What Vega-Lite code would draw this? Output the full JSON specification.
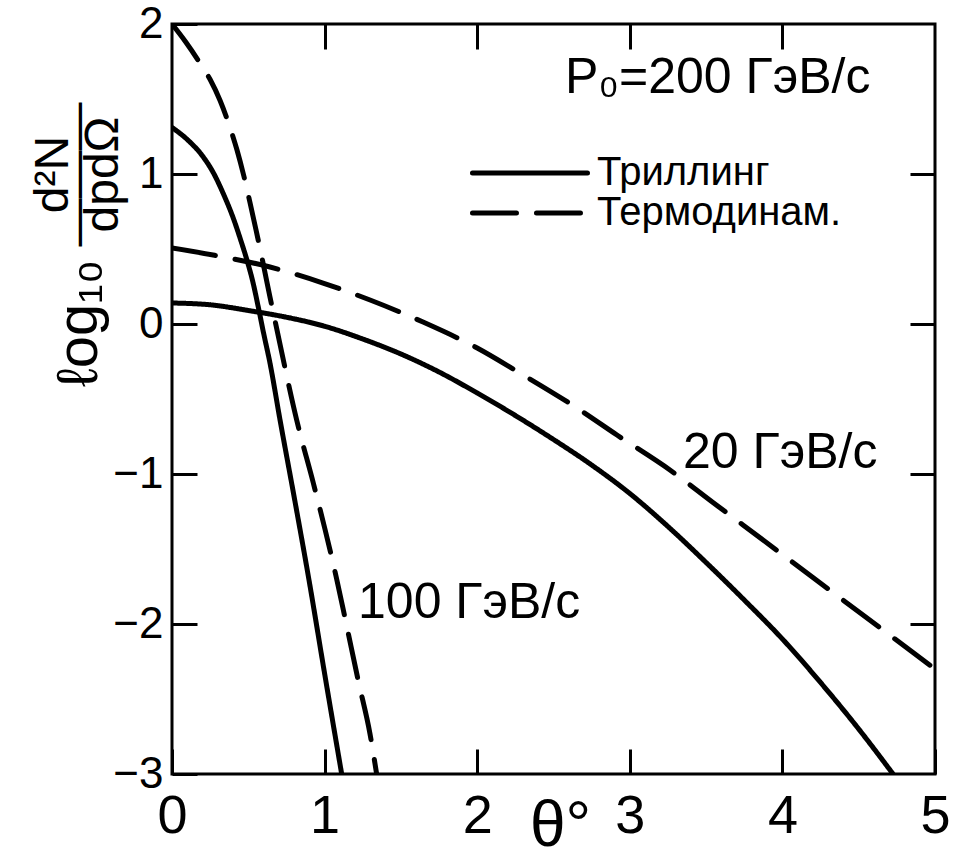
{
  "$schema": "https://vega.github.io/schema/vega-lite/v6.json",
  "width": 763,
  "height": 750,
  "autosize": {"type": "none"},
  "padding": {"left": 172, "top": 24, "right": 23, "bottom": 80},
  "background": "white",
  "config": {
    "font": "Liberation Sans, Arimo, sans-serif",
    "view": {"stroke": "black", "strokeWidth": 3},
    "axis": {
      "domain": false,
      "grid": false,
      "tickColor": "black",
      "tickWidth": 3,
      "tickSize": -25,
      "labelColor": "black",
      "labelFlush": false,
      "labelOverlap": false,
      "titleColor": "black",
      "titleFontWeight": "normal"
    }
  },
  "datasets": {
    "curves": [
      {"p": "100", "model": "Триллинг", "theta": 0.0, "logI": 1.31},
      {"p": "100", "model": "Триллинг", "theta": 0.1, "logI": 1.23},
      {"p": "100", "model": "Триллинг", "theta": 0.2, "logI": 1.12},
      {"p": "100", "model": "Триллинг", "theta": 0.27, "logI": 1.01},
      {"p": "100", "model": "Триллинг", "theta": 0.34, "logI": 0.86},
      {"p": "100", "model": "Триллинг", "theta": 0.4, "logI": 0.71},
      {"p": "100", "model": "Триллинг", "theta": 0.45, "logI": 0.56},
      {"p": "100", "model": "Триллинг", "theta": 0.49, "logI": 0.43},
      {"p": "100", "model": "Триллинг", "theta": 0.53, "logI": 0.28},
      {"p": "100", "model": "Триллинг", "theta": 0.564, "logI": 0.12},
      {"p": "100", "model": "Триллинг", "theta": 0.6, "logI": -0.06},
      {"p": "100", "model": "Триллинг", "theta": 0.642, "logI": -0.26},
      {"p": "100", "model": "Триллинг", "theta": 0.708, "logI": -0.64},
      {"p": "100", "model": "Триллинг", "theta": 0.8, "logI": -1.15},
      {"p": "100", "model": "Триллинг", "theta": 0.9, "logI": -1.72},
      {"p": "100", "model": "Триллинг", "theta": 1.0, "logI": -2.33},
      {"p": "100", "model": "Триллинг", "theta": 1.112, "logI": -3.0},

      {"p": "100", "model": "Термодинам.", "theta": 0.0, "logI": 2.0},
      {"p": "100", "model": "Термодинам.", "theta": 0.09, "logI": 1.88},
      {"p": "100", "model": "Термодинам.", "theta": 0.183, "logI": 1.74},
      {"p": "100", "model": "Термодинам.", "theta": 0.25, "logI": 1.63},
      {"p": "100", "model": "Термодинам.", "theta": 0.315, "logI": 1.49},
      {"p": "100", "model": "Термодинам.", "theta": 0.37, "logI": 1.34},
      {"p": "100", "model": "Термодинам.", "theta": 0.426, "logI": 1.16},
      {"p": "100", "model": "Термодинам.", "theta": 0.47, "logI": 0.99},
      {"p": "100", "model": "Термодинам.", "theta": 0.511, "logI": 0.81},
      {"p": "100", "model": "Термодинам.", "theta": 0.55, "logI": 0.63},
      {"p": "100", "model": "Термодинам.", "theta": 0.598, "logI": 0.4},
      {"p": "100", "model": "Термодинам.", "theta": 0.642, "logI": 0.18},
      {"p": "100", "model": "Термодинам.", "theta": 0.686, "logI": -0.03},
      {"p": "100", "model": "Термодинам.", "theta": 0.74, "logI": -0.29},
      {"p": "100", "model": "Термодинам.", "theta": 0.817, "logI": -0.64},
      {"p": "100", "model": "Термодинам.", "theta": 0.926, "logI": -1.06},
      {"p": "100", "model": "Термодинам.", "theta": 1.003, "logI": -1.37},
      {"p": "100", "model": "Термодинам.", "theta": 1.079, "logI": -1.7},
      {"p": "100", "model": "Термодинам.", "theta": 1.134, "logI": -1.96},
      {"p": "100", "model": "Термодинам.", "theta": 1.221, "logI": -2.38},
      {"p": "100", "model": "Термодинам.", "theta": 1.297, "logI": -2.73},
      {"p": "100", "model": "Термодинам.", "theta": 1.341, "logI": -3.0},

      {"p": "20", "model": "Триллинг", "theta": 0.0, "logI": 0.14},
      {"p": "20", "model": "Триллинг", "theta": 0.25, "logI": 0.128},
      {"p": "20", "model": "Триллинг", "theta": 0.5, "logI": 0.09},
      {"p": "20", "model": "Триллинг", "theta": 0.75, "logI": 0.045},
      {"p": "20", "model": "Триллинг", "theta": 1.0, "logI": -0.015},
      {"p": "20", "model": "Триллинг", "theta": 1.25, "logI": -0.1},
      {"p": "20", "model": "Триллинг", "theta": 1.5, "logI": -0.2},
      {"p": "20", "model": "Триллинг", "theta": 1.75, "logI": -0.32},
      {"p": "20", "model": "Триллинг", "theta": 2.0, "logI": -0.46},
      {"p": "20", "model": "Триллинг", "theta": 2.25, "logI": -0.61},
      {"p": "20", "model": "Триллинг", "theta": 2.5, "logI": -0.77},
      {"p": "20", "model": "Триллинг", "theta": 2.75, "logI": -0.94},
      {"p": "20", "model": "Триллинг", "theta": 3.0, "logI": -1.13},
      {"p": "20", "model": "Триллинг", "theta": 3.25, "logI": -1.35},
      {"p": "20", "model": "Триллинг", "theta": 3.5, "logI": -1.59},
      {"p": "20", "model": "Триллинг", "theta": 3.75, "logI": -1.84},
      {"p": "20", "model": "Триллинг", "theta": 4.0, "logI": -2.1},
      {"p": "20", "model": "Триллинг", "theta": 4.25, "logI": -2.39},
      {"p": "20", "model": "Триллинг", "theta": 4.5, "logI": -2.7},
      {"p": "20", "model": "Триллинг", "theta": 4.725, "logI": -3.0},

      {"p": "20", "model": "Термодинам.", "theta": 0.0, "logI": 0.507},
      {"p": "20", "model": "Термодинам.", "theta": 0.269, "logI": 0.46},
      {"p": "20", "model": "Термодинам.", "theta": 0.642, "logI": 0.38},
      {"p": "20", "model": "Термодинам.", "theta": 0.99, "logI": 0.273},
      {"p": "20", "model": "Термодинам.", "theta": 1.298, "logI": 0.16},
      {"p": "20", "model": "Термодинам.", "theta": 1.645, "logI": 0.013},
      {"p": "20", "model": "Термодинам.", "theta": 2.0, "logI": -0.16},
      {"p": "20", "model": "Термодинам.", "theta": 2.28, "logI": -0.327},
      {"p": "20", "model": "Термодинам.", "theta": 2.654, "logI": -0.56},
      {"p": "20", "model": "Термодинам.", "theta": 2.916, "logI": -0.74},
      {"p": "20", "model": "Термодинам.", "theta": 3.263, "logI": -0.973},
      {"p": "20", "model": "Термодинам.", "theta": 3.545, "logI": -1.19},
      {"p": "20", "model": "Термодинам.", "theta": 3.873, "logI": -1.44},
      {"p": "20", "model": "Термодинам.", "theta": 4.2, "logI": -1.69},
      {"p": "20", "model": "Термодинам.", "theta": 4.528, "logI": -1.94},
      {"p": "20", "model": "Термодинам.", "theta": 4.856, "logI": -2.19},
      {"p": "20", "model": "Термодинам.", "theta": 5.0, "logI": -2.3}
    ],
    "curveLabels": [
      {"label": "100 ГэВ/с", "theta": 1.219, "logI": -1.86},
      {"label": "20 ГэВ/с", "theta": 3.349, "logI": -0.86}
    ],
    "heading": [
      {"label": "P₀=200 ГэВ/с", "theta": 2.575, "logI": 1.64}
    ]
  },
  "layer": [
    {
      "data": {"name": "curves"},
      "mark": {"type": "line", "color": "black", "strokeWidth": 5, "strokeCap": "round", "interpolate": "monotone", "clip": true},
      "encoding": {
        "x": {
          "field": "theta", "type": "quantitative",
          "scale": {"domain": [0, 5], "nice": false, "zero": false},
          "axis": {
            "orient": "bottom", "values": [0, 1, 2, 3, 4, 5], "format": "d",
            "labelFontSize": 54, "labelBaseline": "alphabetic", "labelPadding": 83,
            "title": "θ°", "titleFontSize": 64, "titleX": 388, "titleY": 71,
            "titleBaseline": "alphabetic", "titleAlign": "center"
          }
        },
        "y": {
          "field": "logI", "type": "quantitative",
          "scale": {"domain": [-3, 2], "nice": false, "zero": false},
          "axis": {
            "orient": "left", "values": [-3, -2, -1, 0, 1, 2], "format": "d",
            "labelFontSize": 44, "labelPadding": 34, "labelBaseline": "middle", "labelAlign": "right",
            "title": ["d²N", "———", "dpdΩ"], "titleFontSize": 48, "titleLineHeight": 25,
            "titleAngle": 270, "titleX": -105, "titleY": 150,
            "titleAlign": "center", "titleBaseline": "alphabetic"
          }
        },
        "strokeDash": {
          "field": "model", "type": "nominal",
          "scale": {"domain": ["Триллинг", "Термодинам."], "range": [[1, 0], [44, 20]]},
          "legend": {
            "orient": "none", "legendX": 382, "legendY": 129, "title": null,
            "direction": "vertical",
            "symbolType": "M-7.52,0H1", "symbolSize": 729, "symbolStrokeWidth": 5,
            "symbolStrokeColor": "black",
            "labelFontSize": 40, "labelOffset": 3, "labelColor": "black", "labelLimit": 400,
            "padding": 0, "rowPadding": -4,
            "encode": {
              "symbols": {
                "update": {
                  "strokeDash": [
                    {"test": "datum.label === 'Термодинам.'", "value": [18, 12]},
                    {"value": [1, 0]}
                  ],
                  "strokeCap": {"value": "round"}
                }
              }
            }
          }
        },
        "detail": {"field": "p", "type": "nominal"}
      }
    },
    {
      "data": {"name": "curveLabels"},
      "mark": {"type": "text", "align": "left", "baseline": "middle", "fontSize": 50, "color": "black"},
      "encoding": {
        "x": {
          "field": "theta", "type": "quantitative",
          "scale": {"domain": [0, 5], "nice": false, "zero": false},
          "axis": {"orient": "top", "values": [1, 2, 3, 4], "labels": false, "title": null}
        },
        "y": {
          "field": "logI", "type": "quantitative",
          "scale": {"domain": [-3, 2], "nice": false, "zero": false},
          "axis": {"orient": "right", "values": [-2, -1, 0, 1], "labels": false, "title": null}
        },
        "text": {"field": "label"}
      }
    },
    {
      "data": {"name": "heading"},
      "mark": {"type": "text", "align": "left", "baseline": "middle", "fontSize": 50, "color": "black"},
      "encoding": {
        "x": {
          "field": "theta", "type": "quantitative",
          "scale": {"domain": [0, 5], "nice": false, "zero": false},
          "axis": null
        },
        "y": {
          "field": "logI", "type": "quantitative",
          "scale": {"domain": [-3, 2], "nice": false, "zero": false},
          "axis": {
            "orient": "left", "labels": false, "ticks": false, "domain": false,
            "title": "ℓog₁₀", "titleFontSize": 58, "titleAngle": 270,
            "titleX": -76, "titleY": 299, "titleAlign": "center", "titleBaseline": "alphabetic"
          }
        },
        "text": {"field": "label"}
      }
    }
  ],
  "resolve": {"axis": {"x": "independent", "y": "independent"}}
}
